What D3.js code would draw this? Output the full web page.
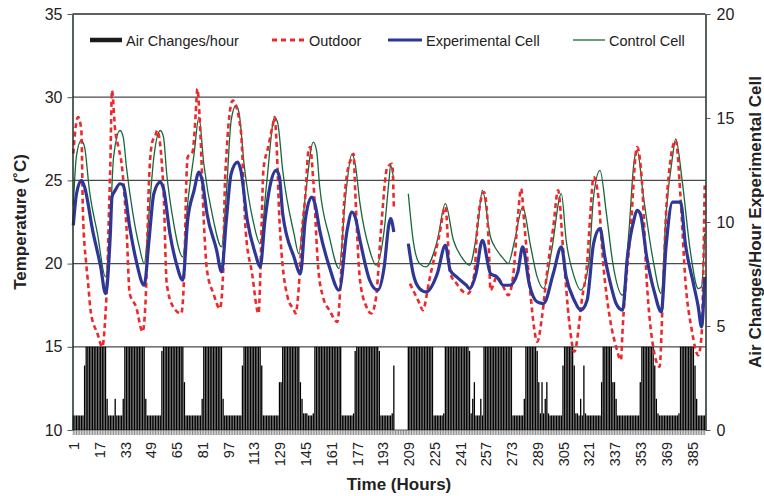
<!DOCTYPE html>
<html>
<head>
<meta charset="utf-8">
<script src="https://cdn.jsdelivr.net/npm/d3@7"></script>
<style>
  body { margin: 0; background: #fff; }
  svg text { font-family: "Liberation Sans", Arial, sans-serif; fill: #222; }
</style>
</head>
<body>
<svg id="chart" width="764" height="496"></svg>
<script>
// ---- data ----
const tempTicks = [10, 15, 20, 25, 30, 35];
const airTicks = [0, 5, 10, 15, 20];
const hourLabels = [1, 17, 33, 49, 65, 81, 97, 113, 129, 145, 161, 177, 193, 209, 225, 241, 257, 273, 289, 305, 321, 337, 353, 369, 385];

// air changes per hour, one value per hour (1..393), null = no data
const airChanges = [
  0.7,0.7,0.7,0.7,0.7,0.7,0.7,3.1,4,4,4,4,4,4,4,4,4,4,4,4,4,1.5,0.7,0.7,
  0.7,0.7,1.5,0.7,0.7,0.7,0.7,1.5,4,4,4,4,4,4,4,4,4,4,4,4,4,1.5,0.7,0.7,
  0.7,0.7,0.7,0.7,0.7,0.7,0.7,3.8,4,4,4,4,4,4,4,4,4,4,4,4,4,2.3,0.7,0.7,
  0.7,0.7,0.7,0.7,0.7,0.7,0.7,0.7,1.5,4,4,4,4,4,4,4,4,4,4,4,4,1.5,0.7,0.7,
  0.7,0.7,0.7,0.7,0.7,0.7,0.7,0.7,0.7,3.1,4,4,4,4,4,4,4,4,4,4,4,3.1,0.7,0.7,
  0.7,0.7,0.7,0.7,0.7,0.7,0.7,0.7,2.3,2.3,4,4,4,4,4,4,4,4,4,4,4,2.3,1.5,0.8,
  0.8,0.8,0.7,0.7,0.7,0.8,4,4,4,4,4,4,4,4,4,4,4,4,4,4,4,4,4,0.7,
  0.7,0.7,0.7,0.7,0.7,0.7,0.8,3.8,4,4,4,4,4,4,4,4,4,4,4,4,4,4,3.8,0.7,
  0.7,0.7,0.7,0.7,0.7,0.7,0.8,3.1,null,null,null,null,null,null,null,null,4,4,4,4,4,4,4,4,
  4,4,4,4,4,4,4,4,0.7,0.7,0.7,0.7,0.7,0.7,0.8,4,4,4,4,4,4,4,4,4,
  4,4,4,4,4,4,3.8,0.8,1.5,2.3,0.7,0.7,0.7,1.5,0.7,4,4,4,4,4,4,4,4,4,
  4,4,4,4,4,4,4,4,4,0.7,0.7,0.7,0.7,0.7,0.7,0.7,1.5,4,4,4,4,4,4,4,
  3.8,2.3,0.8,2.3,0.8,1.5,2.3,0.8,0.7,0.7,0.7,0.7,0.7,0.7,0.7,0.7,3.1,4,4,4,4,4,4,3.1,
  0.8,0.8,0.7,1.5,0.7,3.1,0.8,0.7,0.7,0.7,0.7,0.7,0.7,0.7,0.7,0.7,2.3,4,4,4,4,4,4,2.3,
  2.3,1.5,0.7,0.7,0.7,0.7,0.7,0.7,0.7,0.7,0.7,0.7,0.7,0.7,0.7,0.7,2.3,4,4,4,4,4,4,4,
  4,3.1,1.5,0.8,0.7,0.7,0.7,0.7,0.7,0.7,0.7,0.7,0.7,0.7,0.7,0.7,0.8,4,4,4,4,4,4,4,
  4,4,3.1,1.5,0.7,0.7,0.7,0.7,0.7
];

// [hour, deg C]
const outdoor = [
  [1,26.6],[2,27.8],[4,28.8],[6,28.0],[7,23.0],[9,20.0],[10,19.0],[12,17.0],[16,15.8],[19,15.0],
  [21,17.0],[22,19.0],[23,22.6],[24,26.0],[25,30.4],[27,28.0],[29,27.0],[31,26.0],[34,22.2],[36,18.2],
  [40,17.4],[44,15.9],[46,18.0],[47,21.6],[48,25.0],[50,27.3],[52,27.7],[53,28.0],[57,24.4],[59,18.8],
  [63,17.4],[68,17.0],[70,19.8],[71,24.4],[72,26.4],[75,26.7],[77,29.0],[78,30.5],[80,27.6],[82,22.6],
  [84,19.6],[88,18.2],[92,17.3],[94,19.4],[95,24.4],[96,26.4],[99,29.6],[100,29.8],[105,28.0],[108,22.0],
  [112,19.4],[116,17.0],[117,19.0],[118,22.6],[119,25.6],[122,27.0],[125,28.4],[126,28.8],[127,27.6],[129,22.6],
  [134,18.0],[138,17.2],[139,17.0],[141,18.6],[143,22.0],[145,24.0],[147,26.8],[148,27.0],[150,25.0],[153,19.8],
  [156,18.0],[160,17.2],[165,16.5],[167,19.0],[169,23.4],[171,25.4],[174,26.4],[175,26.6],[176,24.4],[179,19.0],
  [183,17.4],[186,17.0],[189,18.0],[192,22.0],[196,25.8],[199,26.0],[200,23.4],[204,null],
  [210,18.8],[216,17.6],[218,17.2],[222,19.0],[228,21.6],[232,23.4],[235,19.4],[239,18.8],[242,18.4],[246,18.2],
  [250,19.4],[252,22.4],[256,24.3],[259,21.0],[260,18.4],[264,19.2],[268,18.6],[271,18.1],[274,19.2],[277,22.8],
  [279,24.5],[281,22.4],[285,18.0],[287,16.2],[289,15.3],[292,16.8],[295,19.4],[299,22.2],[302,24.4],[305,21.0],
  [309,16.4],[312,14.7],[317,18.0],[320,20.0],[322,23.0],[324,25.2],[327,24.0],[330,20.0],[334,16.8],[338,15.0],
  [341,14.2],[342,16.0],[347,22.0],[351,27.0],[354,25.0],[357,19.0],[361,15.0],[365,13.8],[367,18.0],[369,23.0],
  [371,25.6],[375,27.4],[378,24.0],[381,19.0],[385,16.0],[389,14.5],[391,15.6],[393,24.7]
];

const experimental = [
  [1,22.3],[3,24.2],[6,25.0],[8,24.6],[13,22.0],[18,19.8],[21,18.2],[24,21.8],[25,24.0],[27,24.4],
  [30,24.8],[32,24.7],[36,22.2],[40,20.2],[45,18.7],[48,21.4],[51,24.2],[55,24.9],[57,24.5],[61,21.8],
  [65,20.0],[69,19.0],[72,22.6],[76,24.4],[79,25.5],[81,25.0],[84,23.0],[90,20.8],[93,19.5],[96,22.6],
  [99,25.4],[103,26.1],[105,25.6],[109,22.6],[114,20.6],[117,19.8],[120,22.6],[123,24.6],[127,25.6],[129,25.2],
  [131,23.0],[138,20.4],[142,19.4],[145,22.6],[149,24.0],[151,23.6],[154,22.0],[160,19.8],[166,18.4],[171,22.0],
  [174,23.1],[176,22.8],[179,21.4],[185,19.0],[190,18.4],[194,19.8],[197,22.4],[198,22.7],[200,21.9],[204,null],
  [209,21.2],[212,19.4],[216,18.5],[220,18.3],[227,19.4],[232,21.1],[235,19.6],[239,19.2],[245,18.7],[247,18.5],
  [251,19.4],[255,21.4],[260,19.4],[264,19.2],[268,18.7],[272,18.7],[277,19.5],[280,21.0],[284,18.8],[289,17.7],
  [293,17.6],[299,19.4],[304,21.0],[307,19.2],[312,17.8],[316,17.2],[320,17.8],[324,21.2],[328,22.1],[331,20.4],
  [335,18.6],[338,17.6],[342,17.2],[345,20.4],[349,22.6],[351,23.2],[353,23.0],[357,20.4],[362,18.2],[366,17.1],
  [369,21.0],[373,23.7],[378,23.7],[381,21.2],[386,18.8],[389,17.4],[391,16.2],[393,19.2]
];

const control = [
  [1,23.5],[3,26.5],[6,27.4],[8,27.0],[11,24.4],[16,21.8],[21,19.2],[24,22.6],[26,26.4],[30,28.0],
  [32,27.6],[34,25.8],[38,23.0],[42,21.0],[45,20.0],[48,23.0],[51,26.4],[55,28.0],[57,27.6],[59,25.4],
  [63,22.6],[69,20.4],[72,23.6],[76,26.6],[79,28.8],[82,26.0],[88,22.6],[93,21.0],[96,24.2],[99,28.6],
  [102,29.5],[104,29.0],[107,26.0],[113,22.4],[117,21.2],[121,24.8],[126,28.8],[128,28.4],[131,25.6],[138,21.8],
  [141,20.6],[145,24.0],[150,27.3],[152,26.8],[154,24.6],[160,21.6],[166,19.7],[170,24.0],[174,26.6],[176,26.0],
  [179,23.6],[185,20.8],[189,19.9],[194,22.0],[197,25.0],[198,25.9],[200,25.0],[204,null],
  [209,24.2],[212,21.4],[216,20.0],[220,19.8],[227,21.4],[232,23.6],[237,21.4],[242,20.4],[247,19.9],[252,22.2],
  [255,24.4],[260,21.6],[264,20.8],[268,20.3],[271,20.0],[275,21.4],[280,23.4],[285,21.0],[289,19.2],[293,18.5],
  [298,20.8],[304,24.2],[307,21.4],[312,19.2],[316,18.4],[321,20.0],[324,24.0],[328,25.6],[332,23.0],[336,20.0],
  [342,18.1],[346,22.0],[349,26.0],[351,26.8],[355,24.0],[361,20.2],[366,18.2],[369,23.0],[373,26.4],[375,27.5],
  [379,25.0],[384,20.8],[389,18.5],[391,18.6],[393,21.8]
];

// ---- layout ----
const plotLeft = 72.5, plotRight = 705.5, plotTop = 14, plotBottom = 430;
const svg = d3.select("#chart");

const x = d3.scaleLinear().domain([0.5, airChanges.length + 0.5]).range([plotLeft, plotRight]);
const yT = d3.scaleLinear().domain([10, 35]).range([plotBottom, plotTop]);
const yA = d3.scaleLinear().domain([0, 20]).range([plotBottom, plotTop]);

// gridlines
svg.append("g")
  .selectAll("line")
  .data(tempTicks)
  .join("line")
    .attr("x1", plotLeft).attr("x2", plotRight)
    .attr("y1", d => yT(d)).attr("y2", d => yT(d))
    .style("stroke", d => d === 35 ? "#2b2b2b" : (d === 10 ? "#888" : "#4a4a4a"))
    .style("stroke-width", 1.3);

// bars (air changes)
const barW = 1.3;
svg.append("g")
  .selectAll("rect")
  .data(airChanges.map((v, i) => ({ h: i + 1, v })).filter(d => d.v != null))
  .join("rect")
    .attr("x", d => x(d.h) - barW / 2)
    .attr("y", d => yA(d.v))
    .attr("width", barW)
    .attr("height", d => plotBottom - yA(d.v))
    .style("fill", "#000");

// hourly tick marks under the axis
svg.append("g")
  .selectAll("line")
  .data(airChanges.map((v, i) => i + 1))
  .join("line")
    .attr("x1", d => x(d)).attr("x2", d => x(d))
    .attr("y1", plotBottom).attr("y2", plotBottom + 5)
    .style("stroke", "#7a7a7a")
    .style("stroke-width", 0.9);

// lines
const lineGen = d3.line()
  .defined(d => d[1] != null)
  .x(d => x(d[0]))
  .y(d => yT(d[1]))
  .curve(d3.curveMonotoneX);

svg.append("path").datum(control)
  .attr("d", lineGen)
  .style("fill", "none").style("stroke", "#16683a").style("stroke-width", 1.3);

svg.append("path").datum(outdoor)
  .attr("d", lineGen)
  .style("fill", "none").style("stroke", "#ec2a2e").style("stroke-width", 2.6)
  .style("stroke-dasharray", "5 3.5");

svg.append("path").datum(experimental)
  .attr("d", lineGen)
  .style("fill", "none").style("stroke", "#2e3795").style("stroke-width", 3.2)
  .style("stroke-linejoin", "round");

// left axis
const axL = svg.append("g")
  .attr("transform", `translate(${plotLeft},0)`)
  .call(d3.axisLeft(yT).tickValues(tempTicks).tickSize(5).tickSizeOuter(0).tickPadding(5));
axL.select(".domain").style("stroke", "#1f2d24").style("stroke-width", 1.5);
axL.selectAll(".tick line").style("stroke", "#555");
axL.selectAll("text").style("font-size", "16px").style("fill", "#222")
  .style("font-family", "'Liberation Sans', Arial, sans-serif");

// right axis
const axR = svg.append("g")
  .attr("transform", `translate(${plotRight},0)`)
  .call(d3.axisRight(yA).tickValues(airTicks).tickSize(5).tickSizeOuter(0).tickPadding(6));
axR.select(".domain").style("stroke", "#1f2d24").style("stroke-width", 1.5);
axR.selectAll(".tick line").style("stroke", "#555");
axR.selectAll("text").style("font-size", "16px").style("fill", "#222")
  .style("font-family", "'Liberation Sans', Arial, sans-serif");

// bottom labels
const axB = svg.append("g")
  .attr("transform", `translate(0,${plotBottom})`)
  .call(d3.axisBottom(x).tickValues(hourLabels).tickSize(0).tickFormat(d3.format("d")));
axB.select(".domain").remove();
axB.selectAll("text")
  .attr("transform", "rotate(-90)")
  .attr("x", -12).attr("y", 0).attr("dy", "0.36em")
  .style("text-anchor", "end")
  .style("font-size", "14.5px").style("fill", "#222")
  .style("font-family", "'Liberation Sans', Arial, sans-serif");

// axis titles
svg.append("text")
  .attr("transform", `translate(26,${(plotTop + plotBottom) / 2}) rotate(-90)`)
  .attr("text-anchor", "middle")
  .style("font-size", "17px").style("font-weight", "bold")
  .text("Temperature (˚C)");

svg.append("text")
  .attr("transform", `translate(761,${(plotTop + plotBottom) / 2}) rotate(-90)`)
  .attr("text-anchor", "middle")
  .style("font-size", "17px").style("font-weight", "bold")
  .text("Air Changes/Hour Experimental Cell");

svg.append("text")
  .attr("x", 399).attr("y", 490)
  .attr("text-anchor", "middle")
  .style("font-size", "17px").style("font-weight", "bold")
  .text("Time (Hours)");

// legend
const legendItems = [
  { label: "Air Changes/hour", x1: 90, x2: 122, color: "#1b1b1b", width: 4.5, dash: null },
  { label: "Outdoor", x1: 272, x2: 305, color: "#ec2a2e", width: 2.8, dash: "5 4" },
  { label: "Experimental Cell", x1: 388, x2: 422, color: "#2e3795", width: 3.2, dash: null },
  { label: "Control Cell", x1: 573, x2: 605, color: "#16683a", width: 1.3, dash: null }
];
const legend = svg.append("g");
legendItems.forEach(item => {
  const l = legend.append("line")
    .attr("x1", item.x1).attr("x2", item.x2)
    .attr("y1", 40).attr("y2", 40)
    .style("stroke", item.color).style("stroke-width", item.width);
  if (item.dash) l.style("stroke-dasharray", item.dash);
  legend.append("text")
    .attr("x", item.x2 + 4).attr("y", 45.5)
    .style("font-size", "14.5px")
    .text(item.label);
});
</script>
</body>
</html>
